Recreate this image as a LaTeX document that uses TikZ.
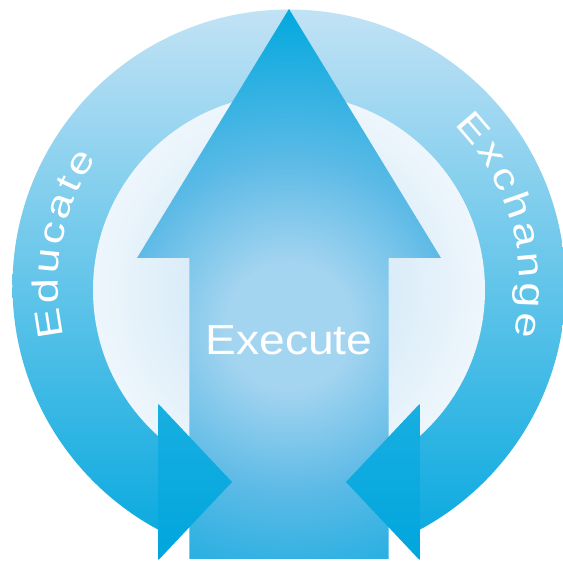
\documentclass[tikz,border=0pt]{standalone}
\usepackage{xcolor}
\usepackage{fontspec}
\setsansfont{Liberation Sans}
\newfontfamily\rimface[FakeStretch=1.25]{Liberation Sans}
\newfontfamily\midface[FakeStretch=1.1]{Liberation Sans}
\usepackage{tikz}
\usetikzlibrary{calc}
\usetikzlibrary{decorations.text}
\definecolor{ringtop}{HTML}{C2E2F5}
\definecolor{ringmid}{HTML}{6FC1E8}
\definecolor{ringbot}{HTML}{02A7DE}
\definecolor{discin}{HTML}{C4E2F4}
\definecolor{discout}{HTML}{EEF6FC}
\definecolor{arrlight}{HTML}{A3D4F0}
\definecolor{arrmid}{HTML}{5CBAE6}
\definecolor{arrdark}{HTML}{00A8DE}
\definecolor{sidetop}{HTML}{18AEE1}
\definecolor{sidebot}{HTML}{00A6DD}
\pgfdeclareradialshading{upshade}{\pgfpoint{0bp}{0bp}}{color(0bp)=(arrlight); color(5bp)=(arrlight); color(13bp)=(arrmid); color(25bp)=(arrdark); color(50bp)=(arrdark)}
\newcommand{\rimfont}{\rimface\fontsize{20.5}{24}\selectfont}
\tikzstyle{rim} = [top color=ringtop, middle color=ringmid, bottom color=ringbot]
\tikzstyle{disc} = [inner color=discin, outer color=discout]
\tikzstyle{side} = [top color=sidetop, bottom color=sidebot]
\tikzstyle{rimtext} = [decorate, decoration={text along path, text align={fit to path}, text color=white}]
\tikzstyle{lbl} = [draw=none, text=white, anchor=base, font=\midface\fontsize{23.9}{28}\selectfont]

\begin{document}
\begin{tikzpicture}
\path [fill=white, use as bounding box] (-5.78,-5.52) rectangle (5.48,5.72);
% ring, open below between the two side heads
\begin{scope}
\clip (-6,6) -- (6,6) -- (6,-6) -- (2.61,-6) -- (2.61,-2.36) -- (-2.61,-2.36) -- (-2.61,-6) -- (-6,-6) -- cycle;
\shade [rim] (0,0) circle (5.53);
\end{scope}
\shade [disc] (0,-0.08) circle (3.92);
% big arrow
\begin{scope}
\clip (0,5.54) -- (3.04,0.56) -- (1.99,0.56) -- (1.99,-5.46) -- (-1.99,-5.46) -- (-1.99,0.56) -- (-3.04,0.56) -- cycle;
\shade [shading=upshade] (0,-0.8) circle (6.4);
\end{scope}
\shade [side] (-2.61,-2.36) -- (-1.14,-3.92) -- (-2.61,-5.48) -- cycle;
\shade [side] (2.61,-2.36) -- (1.14,-3.92) -- (2.61,-5.48) -- cycle;
\path [rimtext, decoration={text={|\rimfont|Educate}}] (192.7:4.62) arc [start angle=192.7, end angle=146.4, radius=4.62];
\path [rimtext, decoration={text={|\rimfont|Exchange}}] (44.3:4.62) arc [start angle=44.3, end angle=-12.5, radius=4.62];
\node [lbl] (X) at (0,-1.38) {Execute};
\end{tikzpicture}
\end{document}
